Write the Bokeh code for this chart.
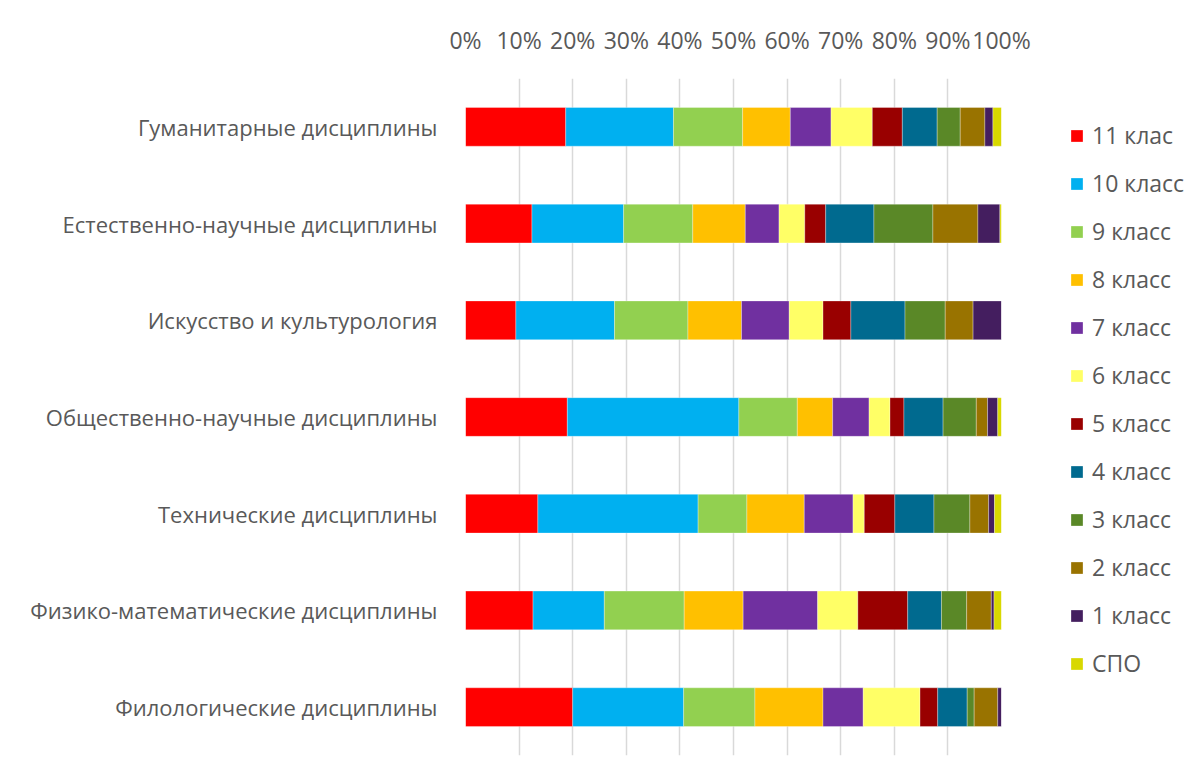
from bokeh.plotting import figure
from bokeh.models import (ColumnDataSource, FactorRange, Range1d, FixedTicker,
                          PrintfTickFormatter, Legend, LegendItem)
from bokeh.embed import file_html
from bokeh.resources import INLINE

categories = [
    "Гуманитарные дисциплины",
    "Естественно-научные дисциплины",
    "Искусство и культурология",
    "Общественно-научные дисциплины",
    "Технические дисциплины",
    "Физико-математические дисциплины",
    "Филологические дисциплины",
]

series_labels = ["11 клас", "10 класс", "9 класс", "8 класс", "7 класс", "6 класс",
                 "5 класс", "4 класс", "3 класс", "2 класс", "1 класс", "СПО"]

grade_11 = [18.7, 12.4, 9.4, 19.0, 13.5, 12.6, 20.0]
grade_10 = [20.1, 17.1, 18.4, 32.0, 29.9, 13.3, 20.7]
grade_9 = [12.9, 12.9, 13.7, 10.9, 9.1, 14.9, 13.3]
grade_8 = [8.9, 9.8, 10.0, 6.6, 10.7, 11.0, 12.7]
grade_7 = [7.6, 6.3, 8.9, 6.8, 9.1, 13.9, 7.5]
grade_6 = [7.7, 4.8, 6.3, 3.9, 2.1, 7.5, 10.6]
grade_5 = [5.6, 3.9, 5.2, 2.6, 5.7, 9.3, 3.3]
grade_4 = [6.5, 9.0, 10.1, 7.3, 7.3, 6.3, 5.5]
grade_3 = [4.3, 11.0, 7.5, 6.2, 6.7, 4.7, 1.3]
grade_2 = [4.6, 8.4, 5.2, 2.1, 3.5, 4.6, 4.4]
grade_1 = [1.5, 4.1, 5.3, 1.9, 1.1, 0.5, 0.7]
spo = [1.6, 0.3, 0.0, 0.7, 1.3, 1.4, 0.0]

tick_values = [0, 10, 20, 30, 40, 50, 60, 70, 80, 90, 100]

colors = ["#FF0000", "#00B0F0", "#92D050", "#FFC000", "#7030A0", "#FFFF66",
          "#990000", "#006A8F", "#5A8827", "#997300", "#441E5F", "#D8D800"]

keys = ["g11", "g10", "g9", "g8", "g7", "g6", "g5", "g4", "g3", "g2", "g1", "spo"]
series = [grade_11, grade_10, grade_9, grade_8, grade_7, grade_6,
          grade_5, grade_4, grade_3, grade_2, grade_1, spo]

data = {"cat": categories}
for k, s in zip(keys, series):
    data[k] = s
source = ColumnDataSource(data)

TEXT = "#595959"
FONT = "Open Sans"

p = figure(width=1184, height=763, output_backend="svg", toolbar_location=None,
           y_range=FactorRange(*list(reversed(categories))),
           x_range=Range1d(0, 100),
           x_axis_location="above",
           frame_width=536, frame_height=677,
           min_border_left=465, min_border_top=78, min_border_right=183,
           min_border_bottom=8)

renderers = p.hbar_stack(keys, y="cat", height=0.4, color=colors, source=source,
                         line_color="white", line_width=0.6, line_alpha=0.5)

p.outline_line_color = None
p.ygrid.grid_line_color = None
p.xgrid.grid_line_color = "#D9D9D9"
p.xgrid.grid_line_width = 1.5
p.xaxis.ticker = FixedTicker(ticks=tick_values)
p.xaxis.formatter = PrintfTickFormatter(format="%d%%")

for ax in (p.xaxis[0], p.yaxis[0]):
    ax.axis_line_color = None
    ax.major_tick_line_color = None
    ax.minor_tick_line_color = None
    ax.major_label_text_color = TEXT
    ax.major_label_text_font = FONT
p.xaxis.major_label_text_font_size = "23px"
p.yaxis.major_label_text_font_size = "22px"
p.xaxis.major_label_standoff = 17
p.yaxis.major_label_standoff = 22

items = [LegendItem(label=lab, renderers=[r]) for lab, r in zip(series_labels, renderers)]
legend = Legend(items=items, location=(68, 68), orientation="vertical",
                glyph_width=15, glyph_height=15, label_standoff=8,
                label_height=48, spacing=0, padding=5, margin=0,
                label_text_font=FONT, label_text_font_size="23px",
                label_text_color=TEXT, border_line_color=None,
                background_fill_alpha=0)
p.add_layout(legend, "right")

open("out.html", "w").write(file_html(p, INLINE))
